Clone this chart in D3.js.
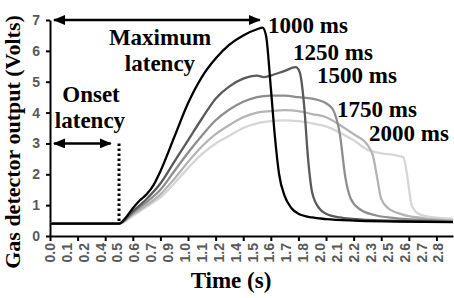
<!DOCTYPE html>
<html lang="en">
<head>
<meta charset="UTF-8">
<script src="https://d3js.org/d3.v7.min.js"></script>
<style>
  body { margin: 0; background: #fff; }
  .tick text { font-family: "Liberation Sans", Arial, sans-serif; font-weight: bold; font-size: 14px; fill: #595959; }
  .note { font-family: "Liberation Serif", "Times New Roman", serif; font-weight: bold; font-size: 23px; fill: #000; }
</style>
</head>
<body>
<div id="chart"></div>
<script>
// Category labels shown under the time axis (Excel-style rounded times)
const timeLabels = ["0.0", "0.1", "0.2", "0.4", "0.5", "0.6", "0.7", "0.9", "1.0", "1.1", "1.2", "1.4",
    "1.5", "1.6", "1.7", "1.8", "2.0", "2.1", "2.2", "2.3", "2.5", "2.6", "2.7", "2.8"];
const yTicks = [0, 1, 2, 3, 4, 5, 6, 7];

// Series: [time (s), volts]
const s1000 = [[0, 0.4], [0.5, 0.4], [0.55, 0.6], [0.6, 0.9], [0.65, 1.15], [0.7, 1.35], [0.75, 1.65], [0.8, 2.1],
    [0.9, 3.2], [1.0, 4.3], [1.1, 5.15], [1.2, 5.75], [1.3, 6.2], [1.4, 6.5], [1.5, 6.7], [1.54, 6.75], [1.565, 6.5],
    [1.6, 4.8], [1.63, 3.2], [1.66, 2.0], [1.7, 1.3], [1.75, 0.9], [1.8, 0.72], [1.9, 0.6], [2.0, 0.55], [2.2, 0.5],
    [2.5, 0.47], [2.92, 0.45]];
const s1250 = [[0, 0.4], [0.5, 0.4], [0.6, 0.8], [0.7, 1.2], [0.8, 1.7], [0.9, 2.4], [1.0, 3.1], [1.1, 3.8],
    [1.2, 4.45], [1.3, 4.85], [1.4, 5.1], [1.5, 5.2], [1.55, 5.15], [1.6, 5.2], [1.7, 5.35], [1.78, 5.47],
    [1.81, 5.3], [1.84, 4.3], [1.87, 2.5], [1.9, 1.4], [1.95, 0.9], [2.0, 0.72], [2.1, 0.6], [2.3, 0.52],
    [2.6, 0.48], [2.92, 0.46]];
const s1500 = [[0, 0.4], [0.5, 0.4], [0.6, 0.75], [0.7, 1.1], [0.8, 1.5], [0.9, 2.1], [1.0, 2.7], [1.1, 3.25],
    [1.2, 3.75], [1.3, 4.1], [1.4, 4.35], [1.5, 4.5], [1.6, 4.55], [1.7, 4.55], [1.8, 4.5], [1.9, 4.45], [2.0, 4.3],
    [2.05, 4.1], [2.1, 3.3], [2.14, 1.9], [2.18, 1.2], [2.25, 0.85], [2.35, 0.68], [2.5, 0.58], [2.7, 0.52],
    [2.92, 0.48]];
const s1750 = [[0, 0.4], [0.5, 0.4], [0.6, 0.7], [0.7, 1.0], [0.8, 1.35], [0.9, 1.85], [1.0, 2.4], [1.1, 2.9],
    [1.2, 3.3], [1.3, 3.6], [1.4, 3.85], [1.5, 4.0], [1.6, 4.05], [1.7, 4.08], [1.8, 4.05], [1.9, 3.95], [2.0, 3.85],
    [2.1, 3.6], [2.2, 3.3], [2.3, 2.95], [2.34, 2.6], [2.37, 1.9], [2.4, 1.2], [2.45, 0.9], [2.55, 0.7], [2.7, 0.58],
    [2.92, 0.5]];
const s2000 = [[0, 0.4], [0.5, 0.4], [0.6, 0.65], [0.7, 0.95], [0.8, 1.25], [0.9, 1.7], [1.0, 2.2], [1.1, 2.65],
    [1.2, 3.0], [1.3, 3.25], [1.4, 3.5], [1.5, 3.65], [1.6, 3.72], [1.7, 3.75], [1.8, 3.72], [1.9, 3.65], [2.0, 3.55],
    [2.1, 3.35], [2.2, 3.1], [2.3, 2.8], [2.4, 2.68], [2.5, 2.62], [2.56, 2.55], [2.59, 1.9], [2.62, 1.0], [2.67, 0.72],
    [2.75, 0.62], [2.92, 0.56]];

const seriesNames = ["1000 ms", "1250 ms", "1500 ms", "1750 ms", "2000 ms"];
const seriesData = [s1000, s1250, s1500, s1750, s2000];

const width = 454;
const height = 298;

const svg = d3.select("#chart")
    .append("svg")
    .attr("width", width)
    .attr("height", height);

// Scales
const x = d3.scaleLinear().domain([0, 2.92]).range([50, 453]);
const xCat = d3.scalePoint().domain(timeLabels).range([x(0), x(2.815)]);
const y = d3.scaleLinear().domain([0, 7]).range([236, 20]);
const color = d3.scaleOrdinal().domain(seriesNames)
    .range(["#000000", "#5a5a5a", "#8e8e8e", "#b4b4b4", "#d6d6d6"]);

// X axis: tick marks every 0.2 s, labels from the categories
const xAxis = svg.append("g")
    .attr("transform", `translate(0,${y(0)})`)
    .call(d3.axisBottom(x).tickValues(d3.range(0, 2.81, 0.2)).tickFormat("").tickSize(5).tickSizeOuter(0));
xAxis.selectAll("line, path").attr("stroke", "#000").attr("stroke-width", 2);

svg.append("g")
    .attr("class", "tick")
    .selectAll("text")
    .data(timeLabels)
    .join("text")
    .attr("transform", d => `translate(${xCat(d)},${y(0) + 7}) rotate(-90)`)
    .attr("text-anchor", "end")
    .attr("dy", "0.35em")
    .text(d => d);

// Y axis
const yAxis = svg.append("g")
    .attr("transform", `translate(${x(0)},0)`)
    .call(d3.axisLeft(y).tickValues(yTicks).tickFormat(d3.format("d")).tickSize(4).tickSizeOuter(0));
yAxis.selectAll("line, path").attr("stroke", "#000").attr("stroke-width", 2);
yAxis.selectAll("text").attr("x", -10);

// Axis titles
svg.append("text")
    .attr("class", "note")
    .style("font-size", "22px")
    .attr("transform", `translate(20,${(y(0) + y(7)) / 2 + 14}) rotate(-90)`)
    .attr("text-anchor", "middle")
    .text("Gas detector output (Volts)");

svg.append("text")
    .attr("class", "note")
    .attr("x", 231)
    .attr("y", 288)
    .attr("text-anchor", "middle")
    .text("Time (s)");

// Lines (lightest first so black is on top)
const line = d3.line()
    .x(d => x(d[0]))
    .y(d => y(d[1]))
    .curve(d3.curveMonotoneX);

svg.append("g")
    .selectAll("path")
    .data(seriesData.map((d, i) => ({ name: seriesNames[i], values: d })).reverse())
    .join("path")
    .attr("d", d => line(d.values))
    .attr("fill", "none")
    .attr("stroke", d => color(d.name))
    .attr("stroke-width", 2.3)
    .attr("stroke-linejoin", "round");

// Series labels
const labelPos = [[268, 33], [293, 60], [317, 83], [337, 117], [369, 141]];
svg.append("g")
    .selectAll("text")
    .data(seriesNames)
    .join("text")
    .attr("class", "note")
    .attr("x", (d, i) => labelPos[i][0])
    .attr("y", (d, i) => labelPos[i][1])
    .text(d => d);

// Arrow markers
svg.append("defs").append("marker")
    .attr("id", "head")
    .attr("viewBox", "0 0 12 10")
    .attr("refX", 11)
    .attr("refY", 5)
    .attr("markerWidth", 12)
    .attr("markerHeight", 10)
    .attr("markerUnits", "userSpaceOnUse")
    .attr("orient", "auto-start-reverse")
    .append("path")
    .attr("d", "M0,0 L12,5 L0,10 Z")
    .attr("fill", "#000");

// Maximum latency arrow
svg.append("line")
    .attr("x1", x(0) + 4).attr("x2", x(1.52))
    .attr("y1", y(7)).attr("y2", y(7))
    .attr("stroke", "#000").attr("stroke-width", 2.5)
    .attr("marker-start", "url(#head)")
    .attr("marker-end", "url(#head)");

svg.append("text").attr("class", "note")
    .attr("x", 160).attr("y", 45).attr("text-anchor", "middle").text("Maximum");
svg.append("text").attr("class", "note")
    .attr("x", 160).attr("y", 71).attr("text-anchor", "middle").text("latency");

// Onset latency arrow and dotted line
svg.append("line")
    .attr("x1", x(0) + 4).attr("x2", x(0.44))
    .attr("y1", y(3)).attr("y2", y(3))
    .attr("stroke", "#000").attr("stroke-width", 2.5)
    .attr("marker-start", "url(#head)")
    .attr("marker-end", "url(#head)");

svg.append("line")
    .attr("x1", x(0.5)).attr("x2", x(0.5))
    .attr("y1", y(3)).attr("y2", y(0.4))
    .attr("stroke", "#000").attr("stroke-width", 3)
    .attr("stroke-dasharray", "2.5,2.5");

svg.append("text").attr("class", "note")
    .attr("x", 91).attr("y", 102).attr("text-anchor", "middle").text("Onset");
svg.append("text").attr("class", "note")
    .attr("x", 90).attr("y", 128).attr("text-anchor", "middle").text("latency");
</script>
</body>
</html>
